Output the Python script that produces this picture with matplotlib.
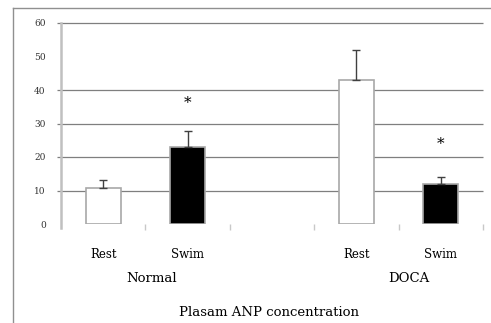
import matplotlib
matplotlib.use("Agg")
import matplotlib.pyplot as plt
from matplotlib.lines import Line2D

categories = ["Rest", "Swim", "", "Rest", "Swim"]
positions = [0, 1, 3, 4]
tick_labels = ["Rest", "Swim", "Rest", "Swim"]
values = [10.8, 23.0, 43.0, 12.0]
errors = [2.4, 4.8, 8.8, 1.9]
colors = ["white", "black", "white", "black"]
groups = ["Normal", "DOCA"]
sig_marks = [(1, 36.0), (4, 24.0)]
grid_vals = [10, 20, 30, 40, 60]
yticks = [0, 10, 20, 30, 40, 50, 60]
xlabel = "Plasam ANP concentration"

plt.rcParams['font.family'] = ['DejaVu Serif', 'Liberation Serif']

fig = plt.figure(figsize=(4.91, 3.23), dpi=100)
ax = fig.add_axes([61/491, 1-224/323, 422/491, 201/323])
ax.set_xlim(-0.5, 4.5)
ax.set_ylim(0, 60)

ax.hlines(grid_vals, -0.01, 1.0, transform=ax.get_yaxis_transform(),
          color="#7f7f7f", lw=0.9, zorder=1, clip_on=False)

bars = ax.bar(positions, values, width=0.41, color=colors,
              edgecolor="#a8a8a8", linewidth=1.2, zorder=3)
ax.errorbar(positions, values, yerr=[[0]*len(errors), errors], fmt="none",
            ecolor="#404040", elinewidth=1.0, capsize=3, capthick=1.0, zorder=4)

for x, y in sig_marks:
    ax.text(x, y, "*", ha="center", va="center", fontsize=11, color="black")

for s in ["top", "right", "bottom"]:
    ax.spines[s].set_visible(False)
ax.spines["left"].set_color("#c0c0c0")
ax.spines["left"].set_linewidth(1.8)
ax.spines["left"].set_bounds(-1.2, 60)
ax.set_ylim(0, 60)

ax.set_yticks(yticks)
ax.set_yticklabels([str(t) for t in yticks], fontsize=6.5, color="#333333")
ax.tick_params(axis="y", length=0, pad=11)
ax.set_xticks(positions)
ax.set_xticklabels(tick_labels, fontsize=8.5)
ax.tick_params(axis="x", length=0, pad=17)
ax.set_xticks([0.5, 1.5, 2.5, 3.5, 4.5], minor=True)
ax.tick_params(axis="x", which="minor", length=4, color="#c8c8c8", width=1, direction="out")

fig.text(152/491, 1-278/323, groups[0], ha="center", va="center", fontsize=9.5)
fig.text(409/491, 1-278/323, groups[1], ha="center", va="center", fontsize=9.5)
fig.text(269/491, 1-313/323, xlabel, ha="center", va="center", fontsize=9.5)

fig.add_artist(Line2D([13/491, 13/491], [0, 1-8/323], transform=fig.transFigure,
                      color="#909090", lw=1.0))
fig.add_artist(Line2D([13/491, 1], [1-8/323, 1-8/323], transform=fig.transFigure,
                      color="#909090", lw=1.0))

fig.savefig("out.png", dpi=100)
